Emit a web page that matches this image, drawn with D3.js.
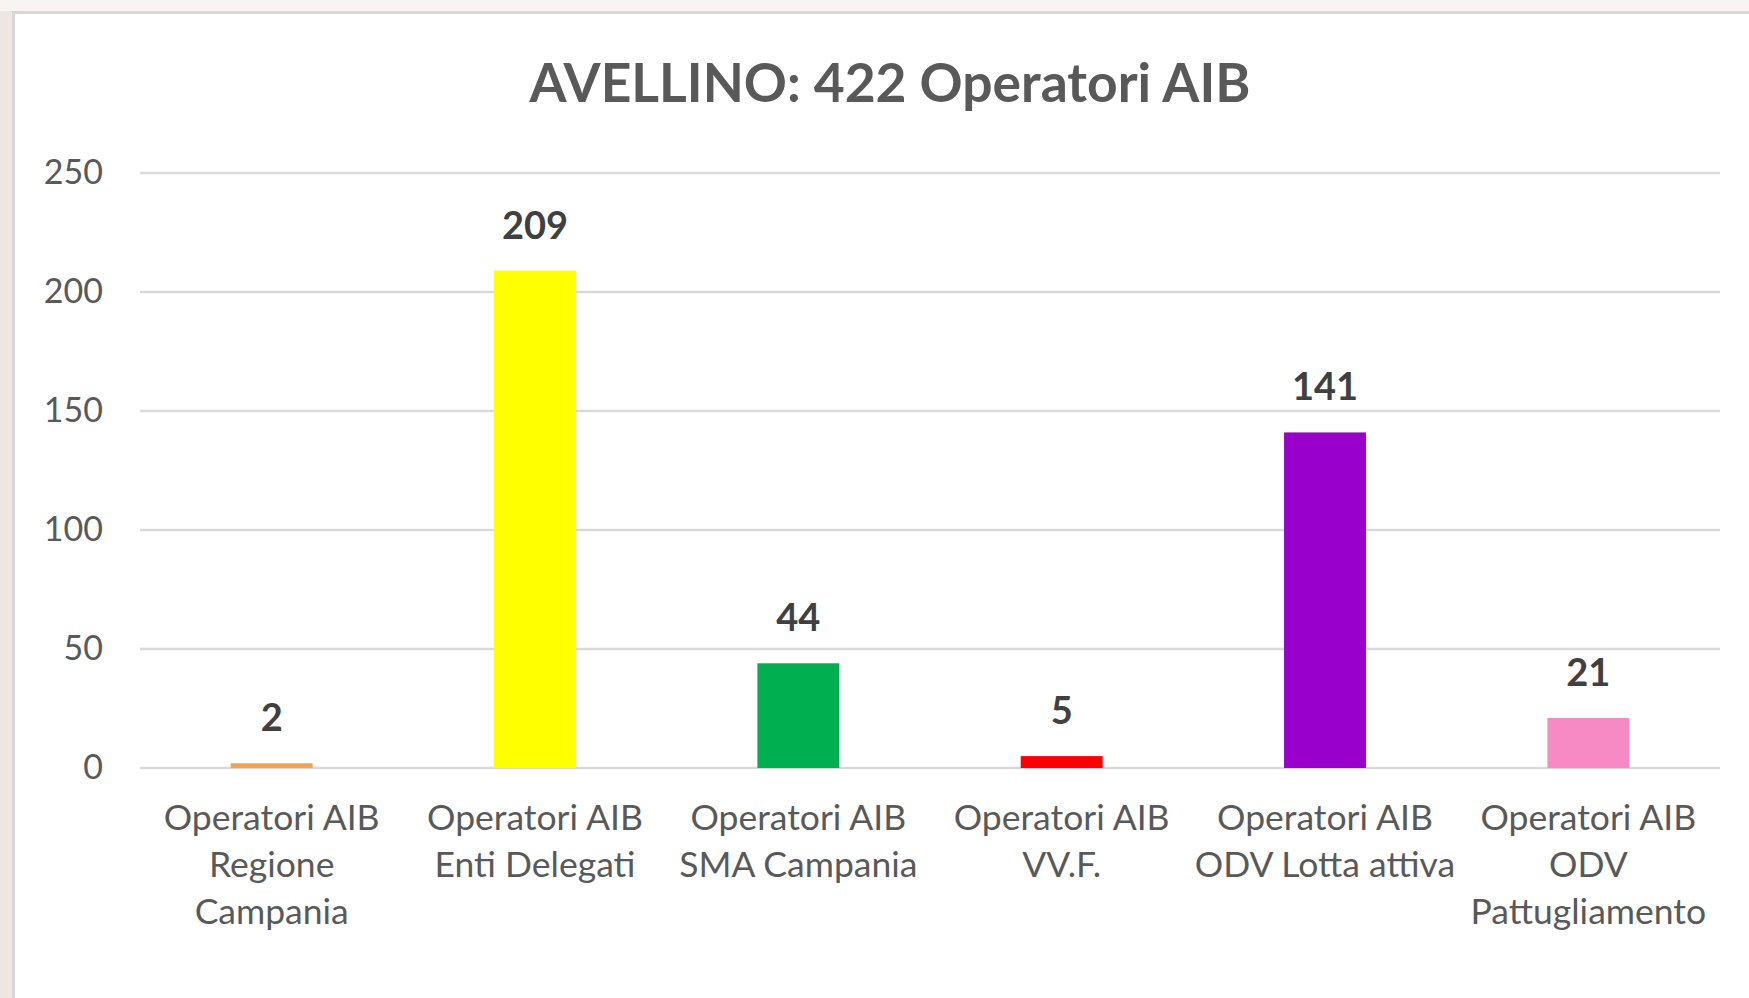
<!DOCTYPE html>
<html lang="it">
<head>
<meta charset="utf-8">
<title>AVELLINO: 422 Operatori AIB</title>
<script src="https://cdn.jsdelivr.net/npm/d3@7"></script>
<style>
  html, body { margin: 0; padding: 0; background: #ffffff; }
  svg { display: block; font-family: Lato, "Open Sans", sans-serif; }
</style>
</head>
<body>
<div id="chart"></div>
<script>
// data
var titleText = "AVELLINO: 422 Operatori AIB";
var categories = [
  ["Operatori AIB", "Regione", "Campania"],
  ["Operatori AIB", "Enti Delegati"],
  ["Operatori AIB", "SMA Campania"],
  ["Operatori AIB", "VV.F."],
  ["Operatori AIB", "ODV Lotta attiva"],
  ["Operatori AIB", "ODV", "Pattugliamento"]
];
var values = [2, 209, 44, 5, 141, 21];
var barColors = ["#f4a24f", "#ffff00", "#00b050", "#ff0000", "#9900cc", "#f78ac4"];
var yTicks = [0, 50, 100, 150, 200, 250];

var width = 1749, height = 998;

var svg = d3.select("#chart").append("svg")
    .attr("width", width)
    .attr("height", height);

// faded backdrop outside the chart frame
svg.append("rect")
    .attr("x", 0).attr("y", 0)
    .attr("width", width).attr("height", height)
    .attr("fill", "#ede6e3");
svg.append("rect")
    .attr("x", 0).attr("y", 0)
    .attr("width", width).attr("height", 11)
    .attr("fill", "#f7f4f3");
// chart frame
svg.append("rect")
    .attr("x", 13.5).attr("y", 12.5)
    .attr("width", width + 10).attr("height", height + 10)
    .attr("fill", "#ffffff")
    .attr("stroke", "#d6d6d6")
    .attr("stroke-width", 3);

var x = d3.scaleBand()
    .domain(d3.range(categories.length))
    .range([140, 1720])
    .paddingInner(0.689)
    .paddingOuter(0.3445);

var y = d3.scaleLinear()
    .domain([0, 250])
    .range([768, 173]);

// gridlines
svg.append("g")
  .selectAll("line")
  .data(yTicks)
  .enter()
  .append("line")
    .attr("x1", 140)
    .attr("x2", 1720)
    .attr("y1", function(d) { return y(d); })
    .attr("y2", function(d) { return y(d); })
    .attr("stroke", "#d9d9d9")
    .attr("stroke-width", 2.5);

// y axis labels
var yAxis = d3.axisLeft(y)
    .tickValues(yTicks)
    .tickSize(0)
    .tickPadding(37);
var yG = svg.append("g")
    .attr("transform", "translate(140,0)")
    .call(yAxis);
yG.select(".domain").remove();
yG.selectAll("text")
    .attr("font-family", "Lato, sans-serif")
    .attr("font-size", 34)
    .attr("fill", "#595959")
    .attr("dy", "0.3em");

// bars
svg.append("g")
  .selectAll("rect")
  .data(values)
  .enter()
  .append("rect")
    .attr("x", function(d, i) { return x(i); })
    .attr("y", function(d) { return y(d); })
    .attr("width", x.bandwidth())
    .attr("height", function(d) { return y(0) - y(d); })
    .attr("fill", function(d, i) { return barColors[i]; });

// value labels
svg.append("g")
  .selectAll("text")
  .data(values)
  .enter()
  .append("text")
    .text(function(d) { return d; })
    .attr("x", function(d, i) { return x(i) + x.bandwidth() / 2; })
    .attr("y", function(d) { return y(d) - 32; })
    .attr("text-anchor", "middle")
    .attr("font-family", "Lato, sans-serif")
    .attr("font-weight", "bold")
    .attr("font-size", 38)
    .attr("fill", "#404040");

// category labels (multi-line)
var xLabels = svg.append("g")
  .selectAll("text")
  .data(categories)
  .enter()
  .append("text")
    .attr("text-anchor", "middle")
    .attr("font-family", "Lato, sans-serif")
    .attr("font-size", 35.5)
    .attr("fill", "#595959")
    .attr("x", function(d, i) { return x(i) + x.bandwidth() / 2; })
    .attr("y", 830);
xLabels.selectAll("tspan")
    .data(function(d, i) { return d.map(function(s) { return { s: s, i: i }; }); })
    .enter()
    .append("tspan")
    .attr("x", function(d) { return x(d.i) + x.bandwidth() / 2; })
    .attr("dy", function(d, j) { return j === 0 ? 0 : 47; })
    .text(function(d) { return d.s; });

// title, fitted to the width it has in the picture
var title = svg.append("text")
    .text(titleText)
    .attr("x", 890)
    .attr("y", 102)
    .attr("text-anchor", "middle")
    .attr("font-family", "Lato, sans-serif")
    .attr("font-weight", "bold")
    .attr("font-size", 50)
    .attr("fill", "#595959");
var tw = title.node().getComputedTextLength();
title.attr("font-size", 50 * 721 / tw);
</script>
</body>
</html>
